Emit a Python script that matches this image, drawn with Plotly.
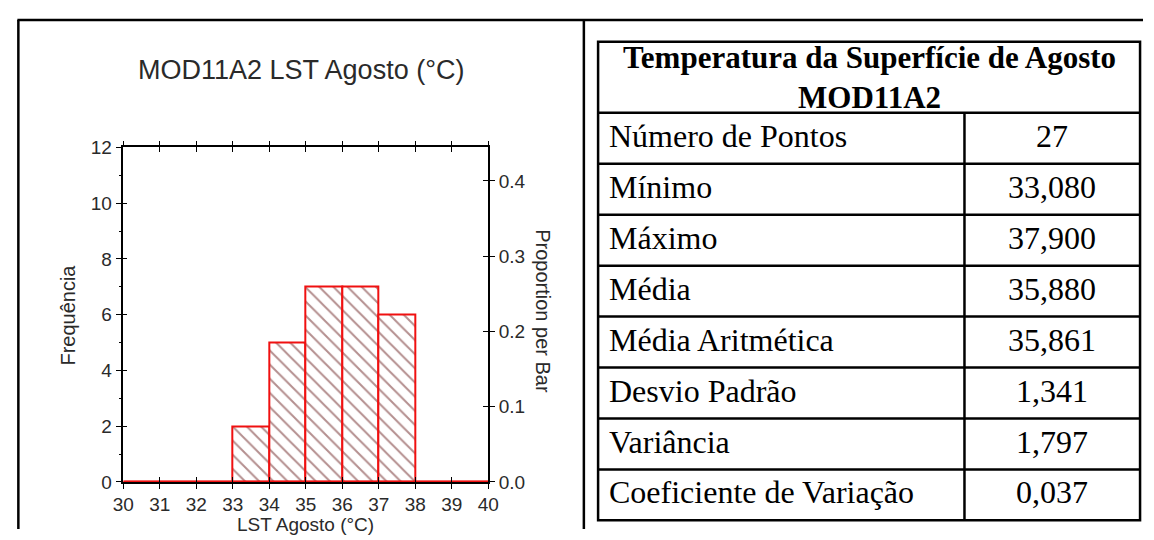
import plotly.graph_objects as go

W, H = 1154, 540

# ---------------- data ----------------
bin_edges = [30, 31, 32, 33, 34, 35, 36, 37, 38, 39, 40]
counts = [0, 0, 0, 2, 5, 7, 7, 6, 0, 0]
freq_ticks = [0, 2, 4, 6, 8, 10, 12]
prop_ticks = [0.0, 0.1, 0.2, 0.3, 0.4]
chart_title = "MOD11A2 LST Agosto (°C)"
x_title = "LST Agosto (°C)"
y_title = "Frequência"
y2_title = "Proportion per Bar"

table_title = ["Temperatura da Superfície de Agosto", "MOD11A2"]
stat_names = ["Número de Pontos", "Mínimo", "Máximo", "Média",
              "Média Aritmética", "Desvio Padrão", "Variância",
              "Coeficiente de Variação"]
stat_values = ["27", "33,080", "37,900", "35,880", "35,861",
               "1,341", "1,797", "0,037"]


def px(x):
    return x / W


def py(y):
    return 1 - y / H


SANS = "Liberation Sans, Arial, sans-serif"
SERIF = "Liberation Serif, Times New Roman, serif"
TXT = "#2a2a2a"

centers = [(a + b) / 2 for a, b in zip(bin_edges[:-1], bin_edges[1:])]
widths = [b - a for a, b in zip(bin_edges[:-1], bin_edges[1:])]
n_total = sum(counts)
y_max = freq_ticks[-1]

fig = go.Figure()
fig.add_trace(go.Bar(
    x=centers, y=counts, width=widths,
    marker=dict(color="white",
                line=dict(color="#f01010", width=2),
                pattern=dict(shape="\\", fgcolor="#6a2020", size=10,
                             solidity=0.2)),
    showlegend=False, hoverinfo="skip"))
fig.add_trace(go.Scatter(
    x=[bin_edges[0], bin_edges[-1]], y=[0, 0], mode="lines",
    line=dict(color="#f01010", width=2.5), cliponaxis=False,
    showlegend=False, hoverinfo="skip"))
# helper traces so the overlay axes are drawn
for xa, ya in [("x2", "y3"), ("x", "y2"), ("x", "y4")]:
    fig.add_trace(go.Scatter(x=[None], y=[None], xaxis=xa, yaxis=ya,
                             showlegend=False, hoverinfo="skip"))

xdom = [px(114.5), px(486.5)]
ydom = [py(491), py(143)]
tick_common = dict(tickcolor="black", tickwidth=1.4, showgrid=False,
                   zeroline=False)
TF = dict(family=SANS, size=19, color=TXT)

fig.update_layout(
    width=W, height=H, margin=dict(l=0, r=0, t=0, b=0),
    paper_bgcolor="white", plot_bgcolor="white", bargap=0,
    xaxis=dict(domain=xdom, range=[bin_edges[0], bin_edges[-1]],
               tickmode="array", tickvals=bin_edges, ticks="outside",
               ticklen=5, showline=True, linecolor="black", linewidth=1.5,
               mirror="ticks", tickfont=TF, **tick_common),
    xaxis2=dict(overlaying="x", anchor="y", range=[bin_edges[0], bin_edges[-1]],
                tickmode="array", tickvals=bin_edges, ticks="inside",
                ticklen=5, showline=False, mirror="ticks",
                showticklabels=False, **tick_common),
    yaxis=dict(domain=ydom, range=[0, y_max], tickmode="array",
               tickvals=freq_ticks, ticks="outside", ticklen=6,
               minor=dict(ticks="outside", ticklen=3, dtick=1,
                          tickcolor="black", tickwidth=1.2),
               showline=True, linecolor="black", linewidth=1.5,
               tickfont=TF, **tick_common),
    yaxis3=dict(overlaying="y", anchor="x", range=[0, y_max],
                tickmode="array", tickvals=freq_ticks, ticks="inside",
                ticklen=4, showticklabels=False, showline=False,
                **tick_common),
    yaxis2=dict(overlaying="y", side="right", anchor="x",
                range=[0, y_max / n_total], tickmode="array",
                tickvals=prop_ticks, tickformat=".1f", ticks="outside",
                ticklen=5, showline=True, linecolor="black", linewidth=1.5,
                tickfont=TF, **tick_common),
    yaxis4=dict(overlaying="y", side="right", anchor="x",
                range=[0, y_max / n_total], tickmode="array",
                tickvals=prop_ticks, ticks="inside", ticklen=5,
                showticklabels=False, showline=False, **tick_common),
)


def label(text, x, y, size, family=SANS, color=TXT, angle=0, xanchor="center"):
    return dict(text=text, x=px(x), y=py(y), xref="paper", yref="paper",
                xanchor=xanchor, yanchor="middle", showarrow=False,
                textangle=angle, borderpad=0,
                font=dict(family=family, size=size, color=color))


ann = [
    label(chart_title, 296, 62, 27),
    label(x_title, 300, 535, 19),
    label(y_title, 58, 317, 20, angle=-90),
    label(y2_title, 543, 313, 20, angle=90),
]

# ---------------- frame & table ----------------
shapes = []
LW = 2.5
frame_top = 10.5


def hline(x0, x1, y):
    return dict(type="line", xref="paper", yref="paper", x0=px(x0), x1=px(x1),
                y0=py(y), y1=py(y), line=dict(color="black", width=LW))


def vline(x, y0, y1):
    return dict(type="line", xref="paper", yref="paper", x0=px(x), x1=px(x),
                y0=py(y0), y1=py(y1), line=dict(color="black", width=LW))


shapes.append(hline(6.5, W, frame_top))
shapes.append(vline(7.5, frame_top, H))
shapes.append(vline(584, frame_top, H))

t_left, t_right, t_mid = 598.5, 1151, 972
t_top, head_bot, row_h = 33, 107, 53
n_rows = len(stat_names)
t_bot = head_bot + n_rows * row_h

shapes.append(dict(type="rect", xref="paper", yref="paper",
                   x0=px(t_left), x1=px(t_right), y0=py(t_bot), y1=py(t_top),
                   line=dict(color="black", width=LW)))
shapes.append(vline(t_mid, head_bot, t_bot))
for i in range(n_rows):
    shapes.append(hline(t_left, t_right, head_bot + i * row_h))

TS = 32
ann.append(label("<b>" + "<br>".join(table_title) + "</b>",
                 (t_left + t_right) / 2, (t_top + head_bot) / 2, 31,
                 family=SERIF, color="black"))
for i, (nm, vl) in enumerate(zip(stat_names, stat_values)):
    yc = head_bot + i * row_h + 24
    ann.append(label(nm, t_left + 10, yc, TS, family=SERIF, color="black",
                     xanchor="left"))
    ann.append(label(vl, (t_mid + t_right) / 2, yc, TS, family=SERIF,
                     color="black"))

fig.update_layout(annotations=ann, shapes=shapes)
fig.write_html("out.html", config={"displayModeBar": False},
               post_script="document.body.style.margin='0';"
                           "document.body.style.overflow='hidden';")
